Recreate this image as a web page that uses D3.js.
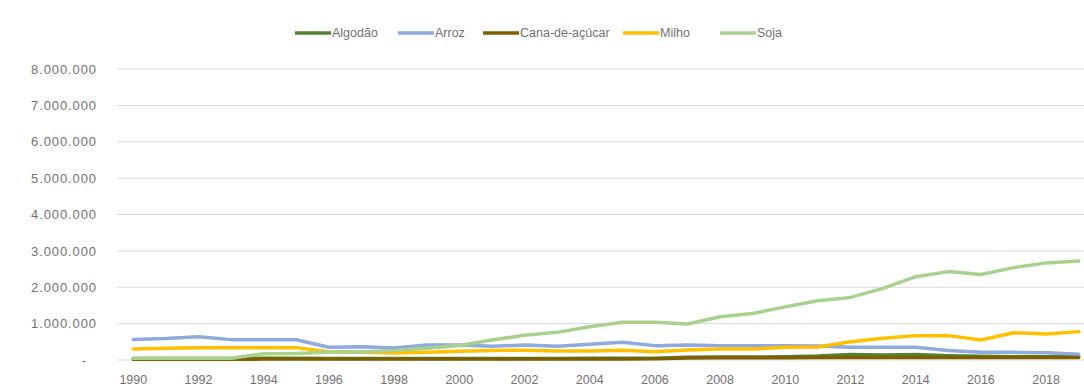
<!DOCTYPE html>
<html>
<head>
<meta charset="utf-8">
<script src="https://cdn.jsdelivr.net/npm/d3@7"></script>
<style>
  html, body { margin: 0; padding: 0; background: #fff; overflow: hidden; }
  svg { display: block; font-family: "Liberation Sans", Arial, sans-serif; }
</style>
</head>
<body>
<svg id="chart" width="1084" height="387"></svg>
<script>
// Harvested area by crop (hectares), 1990–2019
const years = d3.range(1990, 2020);
const algodao = [40000, 40000, 40000, 40000, 50000, 50000, 40000, 40000, 40000, 40000,
                 40000, 40000, 40000, 40000, 50000, 50000, 50000, 75000, 80000, 80000,
                 90000, 110000, 150000, 140000, 150000, 120000, 100000, 90000, 90000, 90000];
const arroz = [565000, 590000, 640000, 560000, 555000, 555000, 350000, 365000, 330000, 410000,
               410000, 380000, 410000, 380000, 430000, 490000, 395000, 410000, 395000, 395000,
               390000, 385000, 350000, 350000, 350000, 260000, 210000, 210000, 200000, 155000];
const cana = [20000, 20000, 20000, 20000, 25000, 25000, 25000, 25000, 25000, 30000,
              30000, 30000, 30000, 30000, 30000, 30000, 35000, 55000, 60000, 65000,
              65000, 70000, 70000, 70000, 70000, 70000, 70000, 70000, 70000, 70000];
const milho = [300000, 320000, 340000, 340000, 340000, 340000, 230000, 210000, 190000, 210000,
               240000, 260000, 270000, 250000, 250000, 265000, 230000, 275000, 300000, 300000,
               350000, 355000, 500000, 595000, 670000, 670000, 550000, 750000, 715000, 780000];
const soja = [50000, 50000, 50000, 50000, 170000, 180000, 220000, 220000, 260000, 320000,
              400000, 550000, 680000, 760000, 915000, 1040000, 1040000, 990000, 1190000, 1280000,
              1460000, 1630000, 1720000, 1970000, 2290000, 2430000, 2350000, 2540000, 2670000, 2720000];
const yTicks = [0, 1000000, 2000000, 3000000, 4000000, 5000000, 6000000, 7000000, 8000000];
const xTickYears = d3.range(1990, 2020, 2);

const series = [
  { name: "Algodão", values: algodao, color: "#548235" },
  { name: "Arroz", values: arroz, color: "#8faadc" },
  { name: "Cana-de-açúcar", values: cana, color: "#7f6000" },
  { name: "Milho", values: milho, color: "#ffc000" },
  { name: "Soja", values: soja, color: "#a9d18e" }
];

const svg = d3.select("#chart");
const plot = { left: 117, right: 1095, top: 69, bottom: 360 };

const x = d3.scaleBand().domain(years).range([plot.left, plot.right]).padding(0);
const xc = yr => x(yr) + x.bandwidth() / 2;
const y = d3.scaleLinear().domain([0, 8000000]).range([plot.bottom, plot.top]);

const ptFormat = d3.formatLocale({ decimal: ",", thousands: ".", grouping: [3], currency: ["", ""] }).format(",d");
const labelColor = "#727272";

// gridlines
svg.append("g")
  .selectAll("line")
  .data(yTicks.filter(d => d > 0))
  .join("line")
  .attr("x1", plot.left).attr("x2", plot.right)
  .attr("y1", d => y(d)).attr("y2", d => y(d))
  .attr("stroke", "#d9d9d9").attr("stroke-width", 1);

// baseline
svg.append("line")
  .attr("x1", plot.left).attr("x2", plot.right)
  .attr("y1", y(0)).attr("y2", y(0))
  .attr("stroke", "#d9d9d9").attr("stroke-width", 1);

// y axis labels
const yAxis = d3.axisLeft(y).tickValues(yTicks).tickSize(0).tickPadding(0)
  .tickFormat(d => d === 0 ? "-" : ptFormat(d));
const gy = svg.append("g").attr("transform", "translate(97,0)").call(yAxis);
gy.select(".domain").remove();
gy.selectAll("text")
  .attr("fill", labelColor).attr("font-size", 13).style("letter-spacing", "0.9px")
  .attr("font-family", "'Liberation Sans', Arial, sans-serif");
gy.selectAll(".tick").filter(d => d === 0).select("text").attr("dx", -10);

// x axis labels
const xAxis = d3.axisBottom(x).tickValues(xTickYears).tickSize(0).tickPadding(0);
const gx = svg.append("g").attr("transform", `translate(0,${plot.bottom + 15})`).call(xAxis);
gx.select(".domain").remove();
gx.selectAll("text")
  .attr("fill", labelColor).attr("font-size", 12.5)
  .attr("font-family", "'Liberation Sans', Arial, sans-serif");

// lines
const line = d3.line().x((d, i) => xc(years[i])).y(d => y(d));
svg.append("g")
  .selectAll("path")
  .data(series)
  .join("path")
  .attr("d", s => line(s.values))
  .attr("fill", "none")
  .attr("stroke", s => s.color)
  .attr("stroke-width", 3.5)
  .attr("stroke-linejoin", "round")
  .attr("stroke-linecap", "round");

// legend
const legendX = [295, 398, 483, 623, 720];
const legend = svg.append("g").attr("transform", "translate(0,33)");
const items = legend.selectAll("g").data(series).join("g")
  .attr("transform", (s, i) => `translate(${legendX[i]},0)`);
items.append("line")
  .attr("x1", 0).attr("x2", 36).attr("y1", 0).attr("y2", 0)
  .attr("stroke", s => s.color).attr("stroke-width", 3.5);
items.append("text")
  .attr("x", 37).attr("y", 0).attr("dy", "0.35em")
  .attr("fill", labelColor).attr("font-size", 12.5)
  .text(s => s.name);
</script>
</body>
</html>
